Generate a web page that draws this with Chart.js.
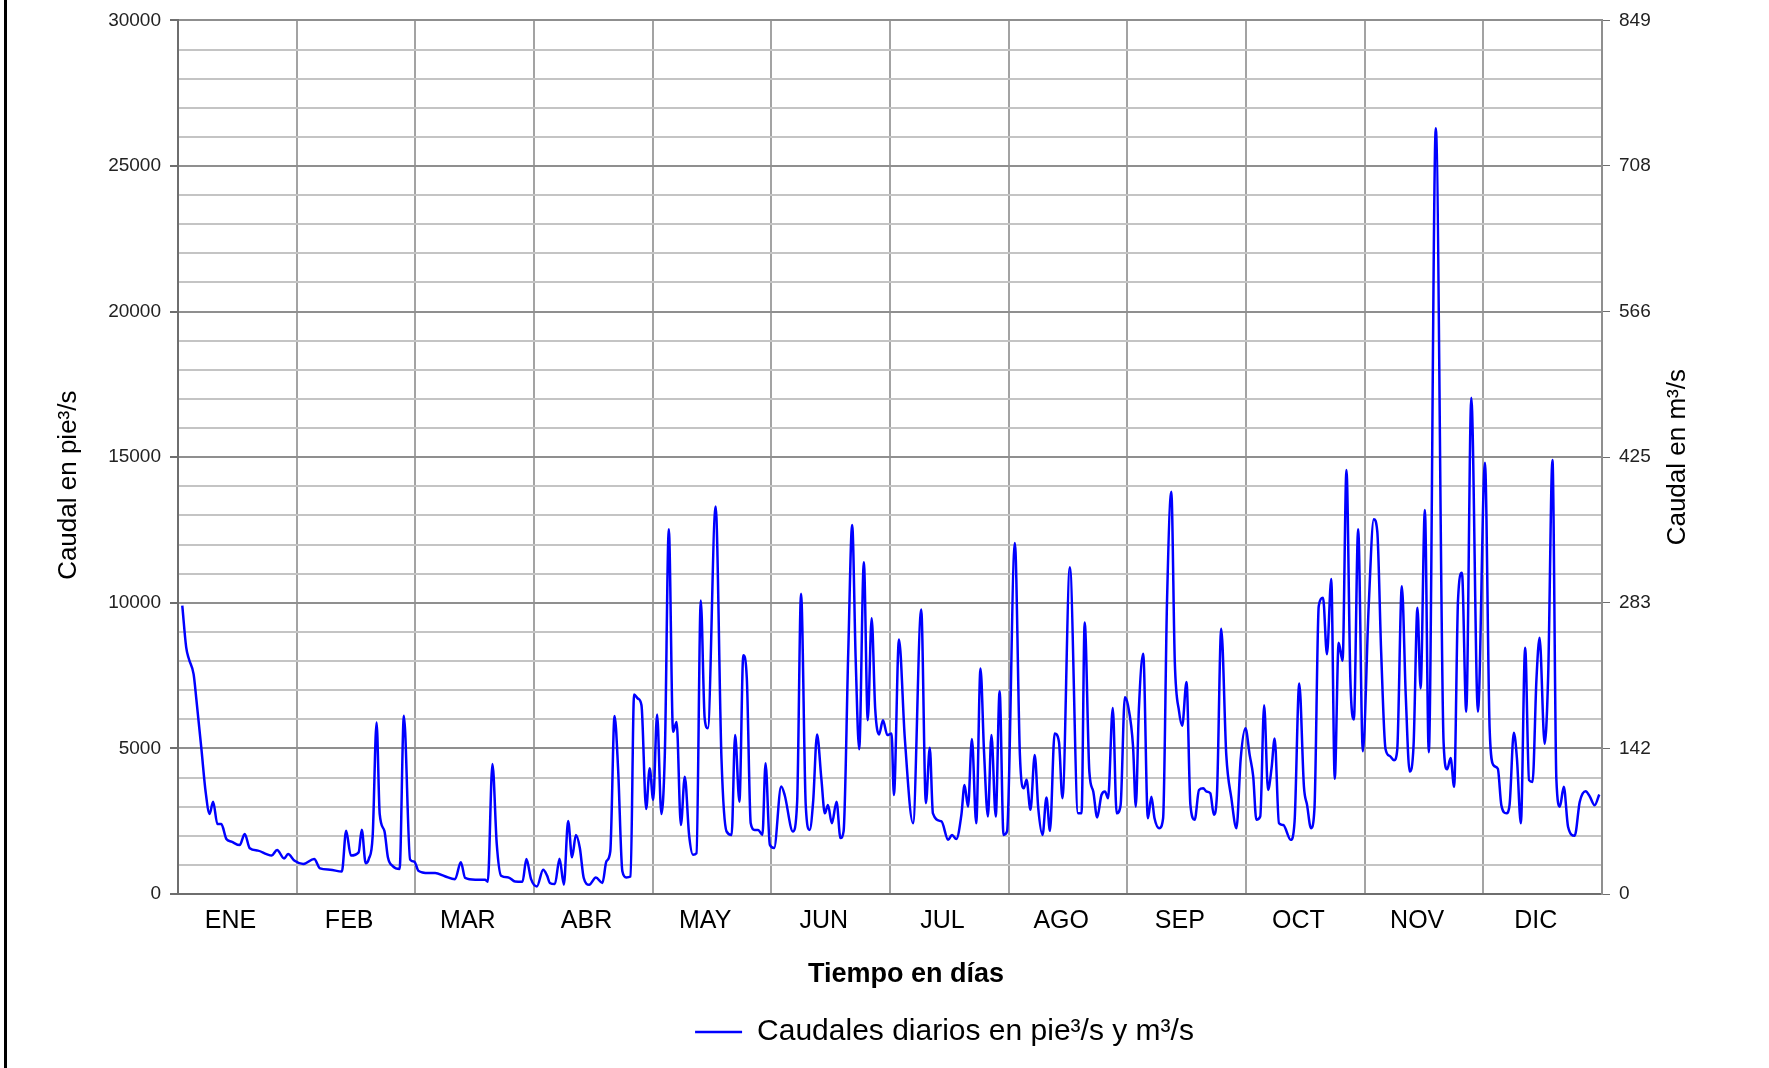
<!DOCTYPE html>
<html>
<head>
<meta charset="utf-8">
<script src="https://cdn.jsdelivr.net/npm/chart.js@4/dist/chart.umd.min.js"></script>
<style>
  html, body { margin: 0; padding: 0; background: #fff; }
  #wrap { position: relative; width: 1769px; height: 1068px; }
  #frame { position: absolute; left: 4px; top: 0; width: 3px; height: 1068px; background: #000; }
  canvas { position: absolute; left: 0; top: 0; }
</style>
</head>
<body>
<div id="wrap">
  <canvas id="caudales" width="1769" height="1068"></canvas>
  <div id="frame"></div>
</div>
<script>
// meses del eje x
const months = ['ENE', 'FEB', 'MAR', 'ABR', 'MAY', 'JUN', 'JUL', 'AGO', 'SEP', 'OCT', 'NOV', 'DIC'];
// etiquetas del eje derecho (m3/s)
const m3Labels = ['0', '142', '283', '425', '566', '708', '849'];

// posicion en dias y caudal en pie3/s
const days = [
    1.1, 2.1, 2.8, 4.0, 4.7, 6.0, 7.1, 8.1, 9.0, 10.1, 11.1, 12.4, 13.7, 15.8, 17.1, 18.4, 20.5, 22.7, 24.0, 25.4,
    27.2, 28.2, 29.9, 32.1, 34.9, 36.4, 39.0, 42.0, 43.1, 44.3, 46.3, 47.1, 48.1, 48.9, 49.9, 50.9, 51.7, 52.9, 53.8, 55.1,
    56.8, 57.9, 59.5, 60.6, 61.6, 64.2, 65.9, 68.4, 71.0, 72.5, 73.6, 76.2, 78.7, 79.4, 80.6, 81.7, 82.8, 84.7, 86.4, 88.3,
    89.3, 90.5, 92.0, 93.6, 94.6, 95.3, 96.6, 97.8, 98.9, 100.0, 101.0, 102.0, 103.0, 104.0, 105.4, 107.1, 108.8, 109.8, 110.8, 111.9,
    112.8, 113.9, 114.9, 116.0, 116.9, 117.9, 118.8, 120.0, 120.9, 121.8, 122.8, 123.9, 124.8, 125.8, 126.9, 127.8, 128.9, 129.9, 131.0, 132.0,
    132.9, 134.0, 135.0, 135.8, 137.8, 139.3, 140.6, 141.9, 142.8, 143.9, 144.9, 145.8, 146.8, 147.8, 148.7, 149.8, 150.6, 151.7, 152.8, 154.6,
    155.5, 157.6, 158.7, 159.7, 160.9, 161.9, 162.8, 163.8, 164.9, 165.8, 166.6, 167.6, 168.8, 169.8, 170.6, 171.8, 172.8, 173.7, 174.6, 175.8,
    176.8, 177.8, 178.7, 179.7, 180.7, 181.8, 182.9, 183.5, 184.8, 186.3, 188.4, 190.5, 191.7, 192.7, 193.5, 195.7, 197.4, 198.4, 199.5, 200.8,
    201.6, 202.5, 203.5, 204.6, 205.7, 206.6, 207.6, 208.5, 209.6, 210.6, 211.6, 212.5, 214.5, 215.8, 216.8, 217.5, 218.5, 219.6, 220.5, 221.6,
    222.6, 223.5, 224.7, 225.8, 226.7, 228.6, 230.7, 231.6, 232.4, 233.6, 234.6, 235.6, 236.7, 237.6, 238.4, 239.6, 240.6, 241.6, 242.7, 243.5,
    244.8, 245.5, 246.3, 247.4, 248.6, 249.5, 250.3, 251.5, 252.5, 253.5, 254.6, 255.5, 256.6, 257.4, 258.5, 259.5, 260.6, 261.7, 262.8, 263.6,
    264.6, 265.5, 266.3, 267.4, 268.7, 270.0, 271.3, 272.4, 273.6, 274.7, 275.6, 276.4, 277.4, 278.4, 279.4, 280.3, 281.1, 282.2, 283.3, 285.2,
    286.2, 287.4, 288.6, 289.4, 290.4, 291.3, 292.4, 293.5, 294.5, 295.6, 296.5, 297.5, 298.5, 299.5, 300.5, 301.4, 302.5, 303.7, 305.2, 306.5,
    307.4, 308.4, 309.5, 310.6, 311.7, 312.5, 313.7, 314.7, 315.7, 316.7, 317.7, 318.5, 319.6, 320.6, 322.4, 324.4, 325.3, 326.2, 327.1, 328.1,
    329.1, 330.2, 331.5, 333.2, 335.0, 336.2, 337.2, 338.3, 339.2, 340.5, 341.3, 342.4, 343.2, 344.2, 345.3, 346.3, 347.2, 348.2, 349.0, 350.3,
    351.2, 352.3, 353.3, 354.2, 355.2, 356.3, 358.0, 359.3, 360.8, 361.9, 363.1, 364.3
];
const flow = [
    9900, 8470, 8070, 7550, 6690, 4980, 3490, 2750, 3170, 2400, 2400, 1890, 1800, 1680, 2060, 1570, 1490, 1370, 1320, 1510,
    1220, 1370, 1140, 1030, 1200, 880, 835, 770, 2170, 1320, 1430, 2210, 1060, 1200, 2000, 5890, 2750, 2170, 1260, 950,
    860, 6120, 1180, 1110, 800, 720, 720, 610, 510, 1090, 550, 490, 490, 420, 4460, 1720, 630, 570, 430, 420,
    1200, 510, 260, 835, 630, 380, 340, 1210, 320, 2510, 1260, 2030, 1580, 550, 320, 570, 380, 1120, 1460, 6110,
    4320, 780, 570, 600, 6850, 6710, 6480, 2920, 4320, 3230, 6160, 2750, 4890, 12530, 5570, 5910, 2370, 4030, 2030, 1350,
    1400, 10080, 6030, 5690, 13310, 4660, 2150, 2030, 5460, 3170, 8200, 7400, 2430, 2200, 2200, 2030, 4490, 1690, 1580, 3690,
    3400, 2150, 3170, 10310, 3060, 2200, 3170, 5480, 3970, 2770, 3060, 2430, 3170, 1920, 2150, 8310, 12670, 8080, 4970, 11390,
    5970, 9470, 6370, 5480, 5970, 5460, 5510, 3400, 8740, 5340, 2430, 9770, 3120, 5020, 2770, 2490, 1860, 2030, 1890, 2720,
    3740, 3000, 5320, 2430, 7740, 4890, 2660, 5460, 2660, 6960, 2030, 2150, 12050, 4770, 3630, 3920, 2890, 4770, 2950, 2030,
    3310, 2170, 5510, 5230, 3290, 11220, 2770, 2770, 9320, 4200, 3520, 2630, 3400, 3520, 3290, 6390, 2770, 3040, 6760, 6480,
    5060, 3000, 6370, 8250, 2600, 3340, 2600, 2260, 2600, 10020, 13810, 7970, 6260, 5780, 7280, 3060, 2550, 3570, 3630, 3520,
    3460, 2720, 3400, 9110, 4770, 3290, 2260, 4660, 5690, 4770, 4030, 2550, 2660, 6480, 3570, 4320, 5340, 2430, 2370, 1860,
    2490, 7230, 3690, 3060, 2260, 2940, 9890, 10170, 8230, 10820, 3960, 8630, 8010, 14560, 7380, 5990, 12530, 4900, 9890, 12870,
    12450, 8290, 4990, 4740, 4590, 4930, 10570, 6810, 4210, 5100, 9830, 7060, 13190, 4870, 26300, 5200, 4280, 4670, 3680, 10110,
    11030, 6260, 17040, 6260, 14810, 5670, 4420, 4300, 3050, 2770, 3050, 5540, 4650, 2430, 8460, 3910, 3850, 7380, 8800, 5160,
    7490, 14900, 3960, 3000, 3680, 2310, 2000, 3170, 3530, 3340, 3050, 3420
];

const monthWidth = 365 / 12;
const FONT = '"Liberation Sans", Arial, sans-serif';

Chart.defaults.font.family = FONT;
Chart.defaults.color = '#1a1a1a';

// titulos de ejes dibujados a mano (los verticales se leen de abajo hacia arriba)
const axisTitles = {
    id: 'axisTitles',
    afterLayout(chart) {
        // la leyenda del original esta corrida a la derecha
        if (chart.legend) {
            chart.legend.left += 60;
            chart.legend.right += 60;
        }
    },
    afterDraw(chart) {
        const ctx = chart.ctx;
        const area = chart.chartArea;
        const mid = (area.top + area.bottom) / 2;
        ctx.save();
        ctx.fillStyle = '#000';
        ctx.textAlign = 'center';
        ctx.textBaseline = 'middle';

        ctx.font = '26px ' + FONT;
        ctx.save();
        ctx.translate(69, mid + 28);
        ctx.rotate(-Math.PI / 2);
        ctx.fillText('Caudal en pie³/s', 0, 0);
        ctx.restore();

        ctx.save();
        ctx.translate(area.right + 76, mid);
        ctx.rotate(-Math.PI / 2);
        ctx.fillText('Caudal en m³/s', 0, 0);
        ctx.restore();

        ctx.font = 'bold 27px ' + FONT;
        ctx.fillText('Tiempo en días', (area.left + area.right) / 2 + 16, area.bottom + 81);
        ctx.restore();
    }
};

const ctxFlow = document.getElementById('caudales').getContext('2d');
const flowChart = new Chart(ctxFlow, {
    type: 'line',
    data: {
        datasets: [{
            label: 'Caudales diarios en pie³/s y m³/s',
            data: days.map((d, i) => ({x: d, y: flow[i]})),
            borderColor: '#0000ff',
            backgroundColor: '#0000ff',
            borderWidth: 2.5,
            pointRadius: 0,
            cubicInterpolationMode: 'monotone',
            fill: false
        }]
    },
    options: {
        responsive: false,
        animation: false,
        devicePixelRatio: 1,
        layout: {
            padding: {top: 17, left: 0, right: 0, bottom: 11}
        },
        plugins: {
            legend: {
                position: 'bottom',
                labels: {
                    color: '#000',
                    font: {size: 30},
                    usePointStyle: true,
                    pointStyle: 'line',
                    pointStyleWidth: 47,
                    padding: 10
                }
            },
            tooltip: {enabled: false}
        },
        scales: {
            x: {
                type: 'linear',
                min: 0,
                max: 365,
                afterBuildTicks: (scale) => {
                    // limites de mes (pares) y centros para las etiquetas (impares)
                    const t = [];
                    for (let k = 0; k < 12; k++) {
                        t.push({value: k * monthWidth});
                        t.push({value: (k + 0.5) * monthWidth - 1.75});
                    }
                    t.push({value: 365});
                    scale.ticks = t;
                },
                afterFit: (scale) => { scale.height = 113; },
                grid: {
                    color: (c) => (c.index % 2 === 0 ? '#a3a3a3' : 'rgba(0,0,0,0)'),
                    lineWidth: 2,
                    drawTicks: false
                },
                border: {display: true, color: '#6e6e6e', width: 2},
                ticks: {
                    autoSkip: false,
                    maxRotation: 0,
                    padding: 12,
                    color: '#000',
                    font: {size: 25},
                    callback: (v, i) => (i % 2 === 1 ? months[(i - 1) / 2] : '')
                }
            },
            y: {
                position: 'left',
                min: 0,
                max: 30000,
                afterFit: (scale) => { scale.width = 178; },
                grid: {
                    color: (c) => (c.tick.value % 5000 === 0 ? '#8f8f8f' : '#c4c4c4'),
                    lineWidth: 2,
                    tickLength: 8,
                    tickColor: (c) => (c.tick.value % 5000 === 0 ? '#6e6e6e' : 'rgba(0,0,0,0)')
                },
                border: {display: true, color: '#6e6e6e', width: 2},
                ticks: {
                    stepSize: 1000,
                    autoSkip: false,
                    padding: 9,
                    color: '#222',
                    font: {size: 19},
                    callback: (v) => (v % 5000 === 0 ? String(v) : '')
                }
            },
            y2: {
                position: 'right',
                min: 0,
                max: 30000,
                afterFit: (scale) => { scale.width = 167; },
                grid: {
                    drawOnChartArea: false,
                    tickLength: 8,
                    tickColor: '#6e6e6e'
                },
                border: {display: true, color: '#8f8f8f', width: 2},
                ticks: {
                    stepSize: 5000,
                    autoSkip: false,
                    padding: 9,
                    color: '#222',
                    font: {size: 19},
                    callback: (v, i) => m3Labels[i]
                }
            }
        }
    },
    plugins: [axisTitles]
});
</script>
</body>
</html>
